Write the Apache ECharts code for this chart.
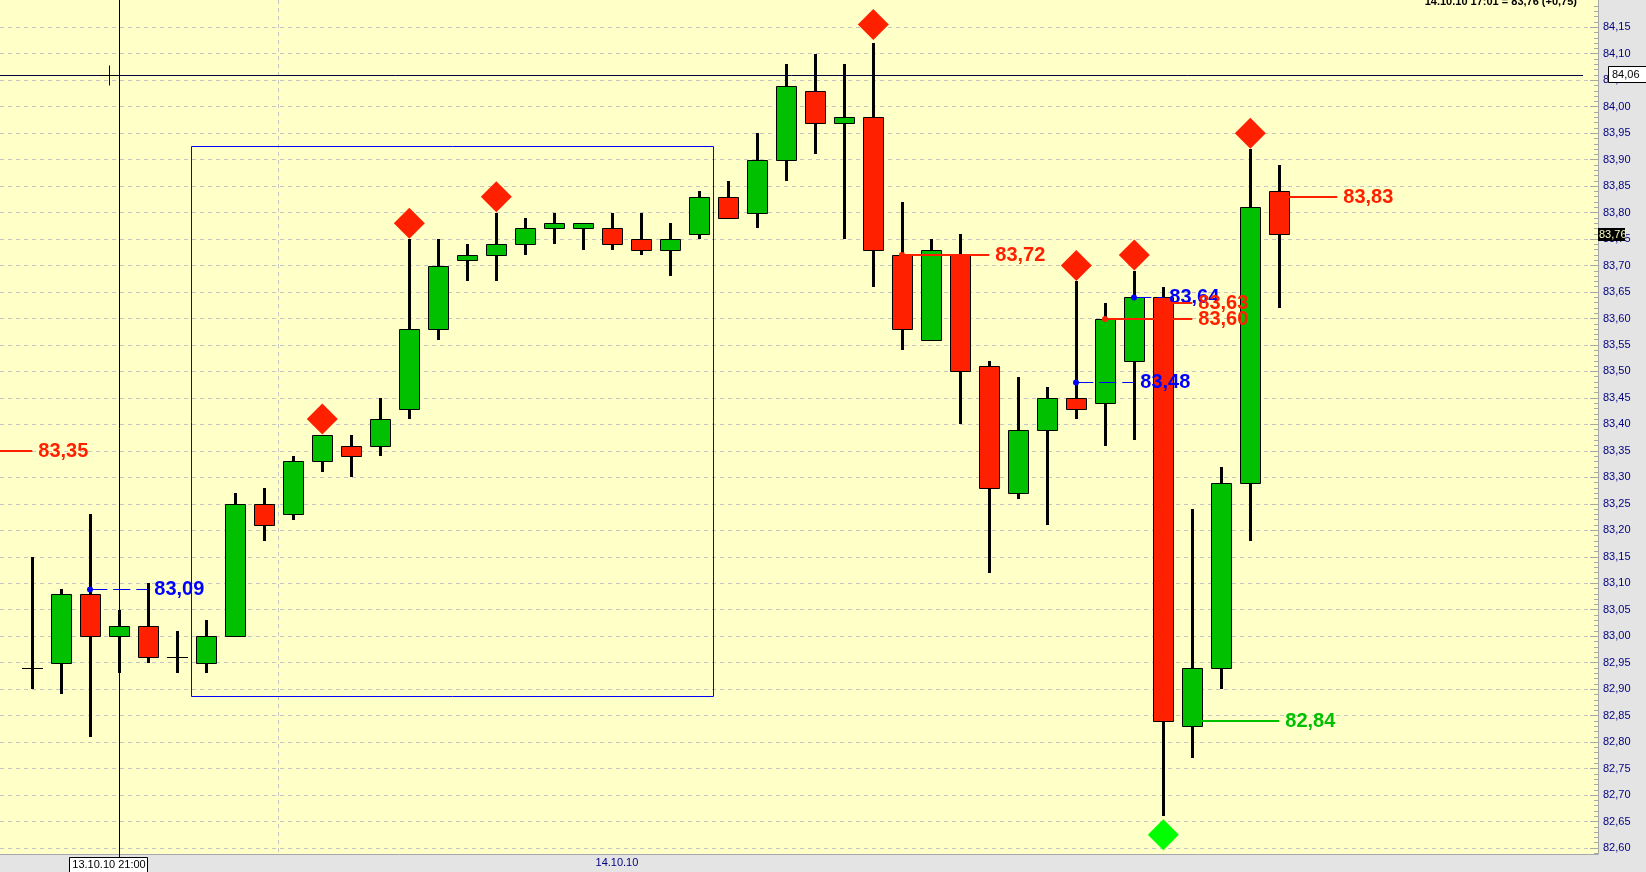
<!DOCTYPE html>
<html>
<head>
<meta charset="utf-8">
<script src="https://cdn.jsdelivr.net/npm/echarts@6/dist/echarts.min.js"></script>
<style>
html,body{margin:0;padding:0;background:#e4e4e4;overflow:hidden}
#c{width:1646px;height:872px}
</style>
</head>
<body>
<div id="c"></div>
<script>
// ---------------- data ----------------
const opens  = [82.94,82.95,83.08,83.00,83.02,82.96,82.95,83.00,83.25,83.23,83.33,83.36,83.36,83.43,83.58,83.71,83.72,83.74,83.77,83.77,83.77,83.75,83.73,83.76,83.83,83.80,83.90,84.03,83.97,83.98,83.72,83.56,83.72,83.51,83.27,83.39,83.45,83.44,83.52,83.64,82.83,82.94,83.29,83.84];
const closes = [82.94,83.08,83.00,83.02,82.96,82.96,83.00,83.25,83.21,83.33,83.38,83.34,83.41,83.58,83.70,83.72,83.74,83.77,83.78,83.78,83.74,83.73,83.75,83.83,83.79,83.90,84.04,83.97,83.98,83.73,83.58,83.73,83.50,83.28,83.39,83.45,83.43,83.60,83.64,82.84,82.94,83.29,83.81,83.76];
const lows   = [82.90,82.89,82.81,82.93,82.95,82.93,82.93,83.00,83.18,83.22,83.31,83.30,83.34,83.41,83.56,83.67,83.67,83.72,83.74,83.73,83.73,83.72,83.68,83.75,83.79,83.77,83.86,83.91,83.75,83.66,83.54,83.56,83.40,83.12,83.26,83.21,83.41,83.36,83.37,82.66,82.77,82.90,83.18,83.62];
const highs  = [83.15,83.09,83.23,83.05,83.10,83.01,83.03,83.27,83.28,83.34,83.38,83.38,83.45,83.75,83.75,83.74,83.80,83.79,83.80,83.78,83.80,83.80,83.78,83.84,83.86,83.95,84.08,84.10,84.08,84.12,83.82,83.75,83.76,83.52,83.49,83.47,83.67,83.63,83.69,83.66,83.24,83.32,83.92,83.89];

const yTickValues = [82.60,82.65,82.70,82.75,82.80,82.85,82.90,82.95,83.00,83.05,83.10,83.15,83.20,83.25,83.30,83.35,83.40,83.45,83.50,83.55,83.60,83.65,83.70,83.75,83.80,83.85,83.90,83.95,84.00,84.05,84.10,84.15];
const xTickValues = [20.16];
const xTickLabels = ['14.10.10'];
const dayBreaks = [8.47];

const sellSignalIndex = [10,13,16,29,36,38,42];
const sellSignalValue = [83.41,83.78,83.83,84.155,83.70,83.72,83.95];
const buySignalIndex  = [39];
const buySignalValue  = [82.625];

// levels: start index, end index, price, kind (0 red, 1 blue dashed, 2 green), dot
const levelStart = [-1.2, 2, 30, 36, 37, 38, 39, 43, 40];
const levelEnd   = [0,    4, 33, 38, 40, 39, 40, 45, 43];
const levelValue = [83.35,83.09,83.72,83.48,83.60,83.64,83.63,83.83,82.84];
const levelKind  = [0, 1, 0, 1, 0, 1, 0, 0, 2];
const levelDot   = [0, 1, 1, 1, 1, 1, 0, 0, 0];

const boxX = [5.47, 23.47];
const boxY = [82.888, 83.925];

const crossIndex = 3;
const crossValue = 84.06;
const cursorIndex = 2.64;
const lastPrice = 83.76;
const crossTimeLabel = '13.10.10 21:00';
const titleText = '14.10.10 17:01 = 83,76 (+0,75)';

// ---------------- styling ----------------
const X_MIN = -1.1138, X_MAX = 53.99;
const Y_MIN = 82.5887, Y_MAX = 84.2015;
const GREEN = '#00C000', RED = '#FF2000', BLUE = '#0000FF', LIME = '#00FF00';
const FONT = '"Liberation Sans", Arial, sans-serif';
const LEVEL_STYLE = [
  {color: RED, width: 2, dash: null},
  {color: BLUE, width: 1, dash: [17, 6]},
  {color: GREEN, width: 2, dash: null}
];
const fmt = v => v.toFixed(2).replace('.', ',');

const candleData = opens.map((o, i) => [i, o, closes[i], lows[i], highs[i]]);
const levelData = levelValue.map((v, k) => [levelStart[k], levelEnd[k], v, levelKind[k], levelDot[k]]);

function renderCandle(params, api) {
  const i = api.value(0), o = api.value(1), c = api.value(2), l = api.value(3), h = api.value(4);
  const pO = api.coord([i, o]), pC = api.coord([i, c]), pL = api.coord([i, l]), pH = api.coord([i, h]);
  const cx = Math.round(pO[0]);
  const yH = Math.round(pH[1]), yL = Math.round(pL[1]);
  const yTop = Math.round(Math.min(pO[1], pC[1])), yBot = Math.round(Math.max(pO[1], pC[1]));
  const children = [
    {type: 'rect', shape: {x: cx - 1, y: yH, width: 3, height: Math.max(1, yL - yH)}, style: {fill: '#000'}}
  ];
  if (yBot - yTop < 1) {
    children.push({type: 'line', shape: {x1: cx - 10, y1: yTop + 0.5, x2: cx + 11, y2: yTop + 0.5}, style: {stroke: '#000', lineWidth: 1}});
  } else {
    children.push({type: 'rect', shape: {x: cx - 9.5, y: yTop + 0.5, width: 20, height: yBot - yTop},
      style: {fill: c > o ? GREEN : RED, stroke: '#000', lineWidth: 1}});
  }
  return {type: 'group', children};
}

function renderLevel(params, api) {
  const x0 = api.value(0), x1 = api.value(1), v = api.value(2), k = api.value(3), dot = api.value(4);
  const st = LEVEL_STYLE[k];
  const p0 = api.coord([x0, v]), p1 = api.coord([x1, v]);
  const y = st.width === 1 ? Math.round(p0[1]) + 0.5 : Math.round(p0[1]);
  const children = [
    {type: 'line', shape: {x1: p0[0], y1: y, x2: p1[0], y2: y},
      style: {stroke: st.color, lineWidth: st.width, lineDash: st.dash}}
  ];
  if (dot) children.push({type: 'circle', shape: {cx: Math.round(p0[0]), cy: y, r: 3}, style: {fill: st.color}});
  children.push({type: 'text', x: p1[0] + 6, y: y,
    style: {text: fmt(v), fill: st.color, font: 'bold 20px ' + FONT, align: 'left', verticalAlign: 'middle'}});
  return {type: 'group', children};
}

function renderBox(params, api) {
  const a = api.coord([api.value(0), api.value(3)]);
  const b = api.coord([api.value(1), api.value(2)]);
  const x = Math.round(a[0]) + 0.5, y = Math.round(a[1]) + 0.5;
  return {type: 'rect', shape: {x, y, width: Math.round(b[0]) - Math.round(a[0]), height: Math.round(b[1]) - Math.round(a[1])},
    style: {fill: 'none', stroke: BLUE, lineWidth: 1}};
}

function renderDayBreak(params, api) {
  const p = api.coord([api.value(0), Y_MIN]);
  const cs = params.coordSys;
  const x = Math.round(p[0]) + 0.5;
  return {type: 'line', shape: {x1: x, y1: cs.y, x2: x, y2: cs.y + cs.height},
    style: {stroke: '#C4C4C4', lineWidth: 1, lineDash: [4, 4]}};
}

function renderCross(params, api) {
  const cs = params.coordSys;
  const p = api.coord([api.value(0), api.value(1)]);
  const q = api.coord([api.value(2), api.value(1)]);
  const y = Math.round(p[1]) + 0.5;
  const x = Math.round(p[0]) + 0.5;
  const cx = Math.round(q[0]) + 0.5;
  return {type: 'group', children: [
    {type: 'line', shape: {x1: cs.x, y1: y, x2: cs.x + cs.width - 15, y2: y}, style: {stroke: '#000040', lineWidth: 1}},
    {type: 'line', shape: {x1: x, y1: cs.y, x2: x, y2: cs.y + cs.height + 3}, style: {stroke: '#000', lineWidth: 1}},
    {type: 'line', shape: {x1: cx, y1: y - 10, x2: cx, y2: y + 10}, style: {stroke: '#000', lineWidth: 1}},
    {type: 'line', shape: {x1: cx - 8, y1: y, x2: cx + 8, y2: y}, style: {stroke: '#000', lineWidth: 1}}
  ]};
}

const chart = echarts.init(document.getElementById('c'), null, {renderer: 'canvas'});
chart.setOption({
  animation: false,
  backgroundColor: '#E4E4E4',
  grid: {left: 0, right: 48, top: 0, bottom: 18, show: true, backgroundColor: '#FFFFC8', borderWidth: 0, containLabel: false, outerBoundsMode: 'none'},
  xAxis: {
    type: 'value', min: X_MIN, max: X_MAX,
    axisLine: {show: true, onZero: false, lineStyle: {color: '#A8A8A8', width: 1}},
    axisTick: {show: false}, axisLabel: {show: false}, splitLine: {show: false}
  },
  yAxis: {
    type: 'value', position: 'right', min: Y_MIN, max: Y_MAX, splitNumber: 32, minInterval: 0.05, maxInterval: 0.05,
    axisLine: {show: true, onZero: false, lineStyle: {color: '#A8A8A8', width: 1}},
    axisTick: {show: true, inside: true, length: 8, lineStyle: {color: '#A8A8A8'}, customValues: yTickValues},
    minorTick: {show: true, splitNumber: 5, length: 4, lineStyle: {color: '#A8A8A8'}},
    axisLabel: {show: true, customValues: yTickValues, color: '#000080', fontSize: 11, fontFamily: FONT, margin: 5, formatter: v => fmt(v)},
    splitLine: {show: true, lineStyle: {color: '#C4C4C4', width: 1, type: [4, 4]}}
  },
  series: [
    {type: 'custom', name: 'day', renderItem: renderDayBreak, data: dayBreaks.map(d => [d]), z: 1, silent: true},
    {type: 'custom', name: 'box', renderItem: renderBox, data: [[boxX[0], boxX[1], boxY[0], boxY[1]]], z: 1, silent: true},
    {type: 'custom', name: 'cross', renderItem: renderCross, data: [[crossIndex, crossValue, cursorIndex]], z: 1, silent: true},
    {type: 'custom', name: 'candles', renderItem: renderCandle, data: candleData, encode: {x: 0, y: [1, 2, 3, 4]}, z: 3, silent: true},
    {type: 'scatter', name: 'sell', symbol: 'diamond', symbolSize: 31, itemStyle: {color: RED, opacity: 1},
      data: sellSignalIndex.map((x, k) => [x, sellSignalValue[k]]), z: 4, silent: true},
    {type: 'scatter', name: 'buy', symbol: 'diamond', symbolSize: 31, itemStyle: {color: LIME, opacity: 1},
      data: buySignalIndex.map((x, k) => [x, buySignalValue[k]]), z: 4, silent: true},
    {type: 'custom', name: 'levels', renderItem: renderLevel, data: levelData, z: 5, silent: true}
  ]
});

// overlay labels placed with the chart's own scales
const pCursor = chart.convertToPixel({gridIndex: 0}, [cursorIndex, crossValue]);
const pLast = chart.convertToPixel({gridIndex: 0}, [0, lastPrice]);
const gridRight = 1646 - 48;
const yC = Math.round(pCursor[1]);
const yL = Math.round(pLast[1]);
const xC = Math.round(pCursor[0]);
const graphics = [
  {type: 'rect', z: 100, shape: {x: gridRight + 10.5, y: yC - 8.5, width: 45, height: 16}, style: {fill: '#FFFFFF', stroke: '#000', lineWidth: 1}},
  {type: 'text', z: 101, x: gridRight + 14, y: yC, style: {text: fmt(crossValue), fill: '#000', font: '11px ' + FONT, verticalAlign: 'middle'}},
  {type: 'rect', z: 100, shape: {x: gridRight, y: yL - 6, width: 27, height: 13}, style: {fill: '#000'}},
  {type: 'text', z: 101, x: gridRight + 1, y: yL + 0.5, style: {text: fmt(lastPrice), fill: '#FFFFC0', font: '11px ' + FONT, verticalAlign: 'middle'}},
  {type: 'rect', z: 100, shape: {x: xC - 39.5, y: 857.5, width: 78, height: 16}, style: {fill: '#FFFFFF', stroke: '#000', lineWidth: 1}},
  {type: 'text', z: 101, x: xC, y: 865, style: {text: crossTimeLabel, fill: '#000', font: '11px ' + FONT, align: 'center', verticalAlign: 'middle'}},
  {type: 'text', z: 101, x: 1577, y: 1.5, style: {text: titleText, fill: '#000', font: 'bold 11px ' + FONT, align: 'right', verticalAlign: 'middle'}}
];
xTickValues.forEach((v, k) => {
  const p = chart.convertToPixel({gridIndex: 0}, [v, Y_MIN]);
  graphics.push({type: 'text', z: 101, x: p[0], y: 862.5, style: {text: xTickLabels[k], fill: '#000080', font: '11px ' + FONT, align: 'center', verticalAlign: 'middle'}});
});
chart.setOption({graphic: graphics});
</script>
</body>
</html>
